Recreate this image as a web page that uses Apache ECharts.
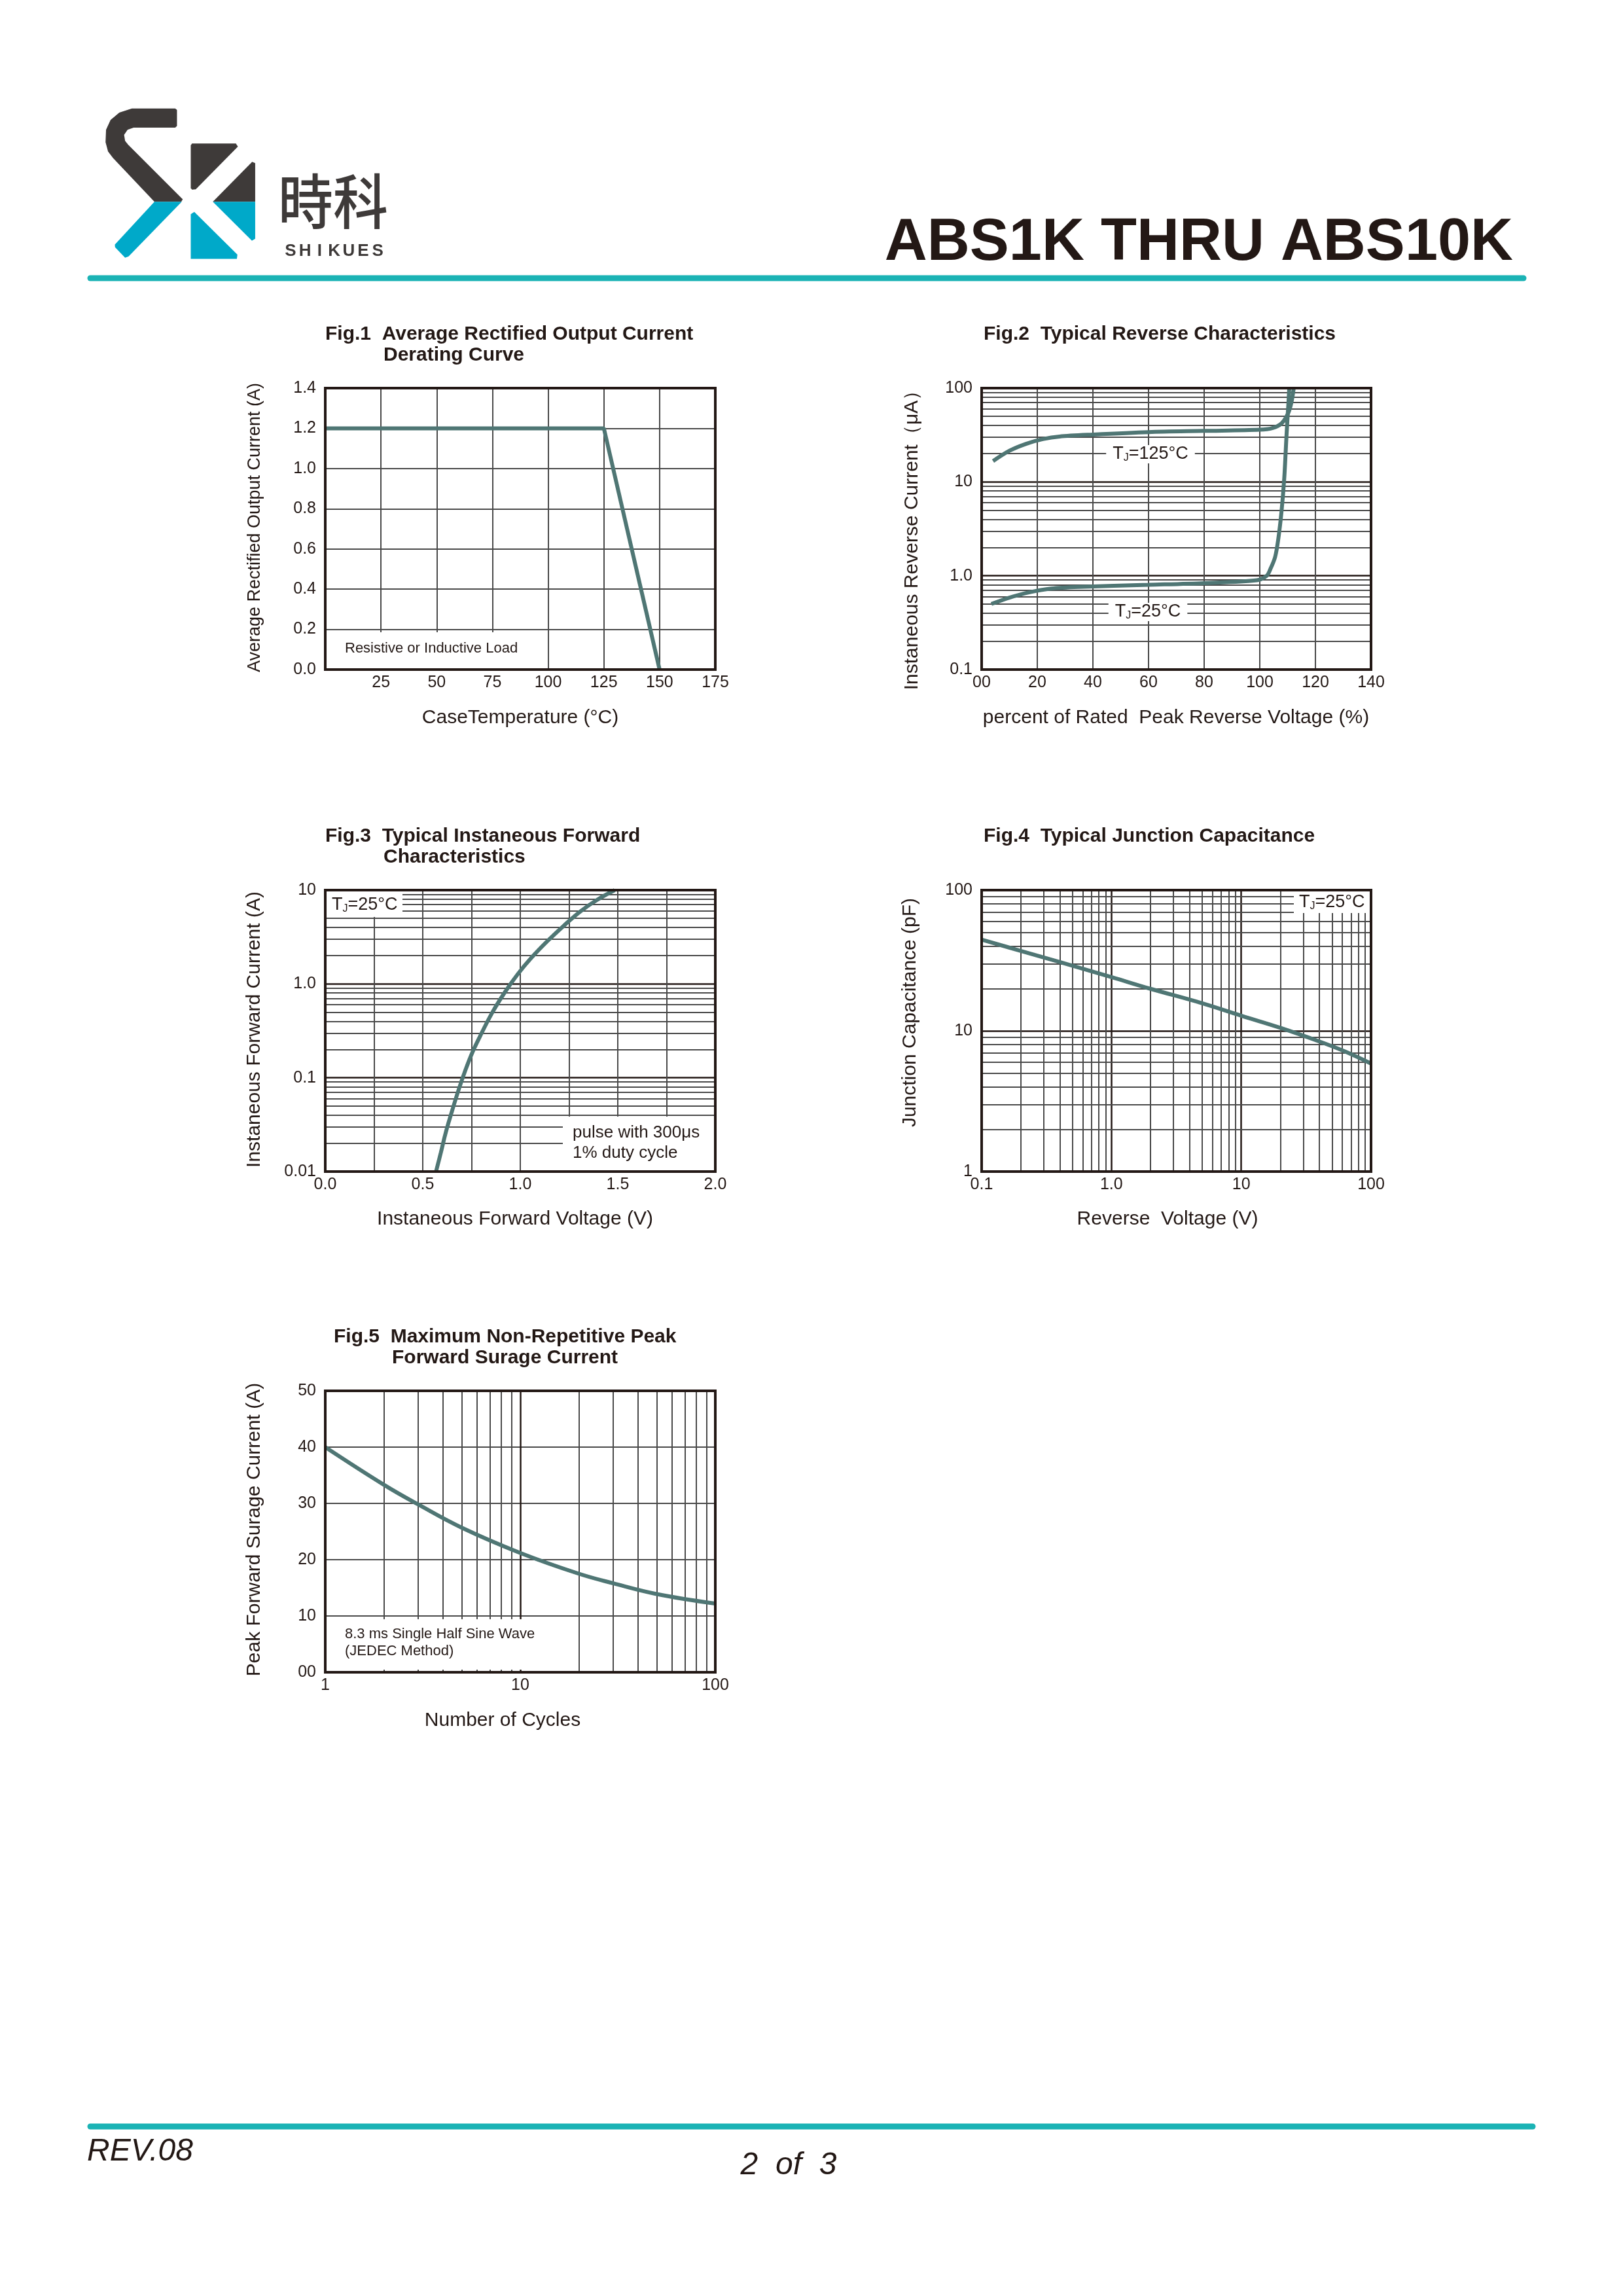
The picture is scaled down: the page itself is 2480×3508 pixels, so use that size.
<!DOCTYPE html>
<html>
<head>
<meta charset="utf-8">
<title>ABS1K THRU ABS10K</title>
<style>
  html, body { margin: 0; padding: 0; background: #fff; }
  #main { width: 2480px; height: 3508px; }
</style>
</head>
<body>
<div id="main"></div>
<script src="https://cdn.jsdelivr.net/npm/echarts@6/dist/echarts.min.js"></script>
<script>
// ---- data ----
// Fig.1 derating curve
var fig1Temp = [0, 125, 150];
var fig1Current = [1.2, 1.2, 0];

// Fig.2 reverse current (% of rated voltage, uA)
var fig2Volt125 = [4.1, 10, 16, 22, 28, 40, 60, 80, 100, 104.5, 107.8, 110.2, 111.4, 112.2];
var fig2Curr125 = [16.7, 21.5, 25.5, 28.6, 30.5, 32, 34, 35, 36, 37.5, 42, 54, 71, 100];
var fig2Volt25 = [3.5, 10, 17, 25, 35, 60, 80, 99, 102.5, 103.7, 105.5, 106.6, 107.8, 108.8, 109.6, 110.2, 110.6];
var fig2Curr25 = [0.5, 0.585, 0.665, 0.73, 0.76, 0.8, 0.835, 0.895, 1.0, 1.16, 1.58, 2.4, 4.8, 11, 31, 62, 100];

// Fig.3 forward characteristics (V, A)
var fig3Volt = [0.568, 0.593, 0.618, 0.652, 0.686, 0.719, 0.753, 0.787, 0.854, 0.921, 0.988, 1.055, 1.139, 1.224, 1.308, 1.392, 1.484];
var fig3Curr = [0.01, 0.016, 0.0261, 0.0456, 0.0768, 0.121, 0.183, 0.259, 0.485, 0.816, 1.28, 1.88, 2.86, 4.19, 5.93, 7.83, 10];

// Fig.4 junction capacitance (V, pF)
var fig4Volt = [0.1, 0.2, 0.4, 1, 2, 5, 10, 20, 40, 63, 100];
var fig4Cap = [44.5, 37.0, 30.8, 24.1, 19.9, 15.7, 12.8, 10.5, 8.4, 7.13, 5.85];

// Fig.5 surge current (cycles, A)
var fig5Cycles = [1, 2, 3, 5, 10, 20, 30, 50, 100];
var fig5Surge = [40, 33.3, 29.8, 25.7, 21.2, 17.5, 15.8, 13.9, 12.2];

// ---- tick labels ----
var fig2YTicks = [0.1, 1, 10, 100];
var fig2YLabels = ['0.1', '1.0', '10', '100'];
var fig2XLabels = ['00', '20', '40', '60', '80', '100', '120', '140'];
var fig3YTicks = [0.01, 0.1, 1, 10];
var fig3YLabels = ['0.01', '0.1', '1.0', '10'];
var fig4XTicks = [0.1, 1, 10, 100];
var fig4XLabels = ['0.1', '1.0', '10', '100'];
var fig4YTicks = [1, 10, 100];
var fig4YLabels = ['1', '10', '100'];
var fig5XTicks = [1, 10, 100];
var fig5XLabels = ['1', '10', '100'];
var fig5YLabels = ['00', '10', '20', '30', '40', '50'];

// minor log grid lines
var fig2MinorY = [0.2, 0.3, 0.4, 0.5, 0.6, 0.7, 0.8, 0.9, 2, 3, 4, 5, 6, 7, 8, 9, 20, 30, 40, 50, 60, 70, 80, 90];
var fig3MinorY = [0.02, 0.03, 0.04, 0.05, 0.06, 0.07, 0.08, 0.09, 0.2, 0.3, 0.4, 0.5, 0.6, 0.7, 0.8, 0.9, 2, 3, 4, 5, 6, 7, 8, 9];
var fig4MinorX = [0.2, 0.3, 0.4, 0.5, 0.6, 0.7, 0.8, 0.9, 2, 3, 4, 5, 6, 7, 8, 9, 20, 30, 40, 50, 60, 70, 80, 90];
var fig4MinorY = [2, 3, 4, 5, 6, 7, 8, 9, 20, 30, 40, 50, 60, 70, 80, 90];
var fig5MinorX = [2, 3, 4, 5, 6, 7, 8, 9, 20, 30, 40, 50, 60, 70, 80, 90];

// ---- style ----
var TXT = '#231815';
var GRIDC = '#4a4a4a';
var CURVE = '#4f7674';
var TEAL = '#1bb3b5';
var FONT = '"Liberation Sans", Arial, sans-serif';

var P = [
    {l: 497, t: 593, w: 596, h: 430},
    {l: 1500, t: 593, w: 595, h: 430},
    {l: 497, t: 1360, w: 596, h: 430},
    {l: 1500, t: 1360, w: 595, h: 430},
    {l: 497, t: 2125, w: 596, h: 430}
];

function pairs(xs, ys) {
    var res = [];
    for (var i = 0; i < xs.length; i++) res.push([xs[i], ys[i]]);
    return res;
}
function logLabel(ticks, labels) {
    return function (v) {
        for (var i = 0; i < ticks.length; i++) {
            if (Math.abs(Math.log10(v) - Math.log10(ticks[i])) < 1e-6) return labels[i];
        }
        return '';
    };
}
function minorLines(xs, ys) {
    var d = [];
    (xs || []).forEach(function (v) { d.push({xAxis: v}); });
    (ys || []).forEach(function (v) { d.push({yAxis: v}); });
    return {
        silent: true, symbol: 'none', z: 1, animation: false,
        label: {show: false},
        lineStyle: {color: GRIDC, width: 2, type: 'solid'},
        emphasis: {disabled: true},
        data: d
    };
}
function curve(xi, data, extra) {
    var s = {
        type: 'line', xAxisIndex: xi, yAxisIndex: xi, data: data,
        showSymbol: false, symbol: 'none', z: 10, silent: true,
        lineStyle: {color: CURVE, width: 6}
    };
    for (var k in extra) s[k] = extra[k];
    return s;
}

var axisLbl = {color: TXT, fontSize: 25, fontFamily: FONT, margin: 14};
function baseAxis(i, o) {
    var a = {
        gridIndex: i,
        axisLine: {show: false},
        axisTick: {show: false},
        axisLabel: Object.assign({}, axisLbl),
        splitLine: {show: true, lineStyle: {color: GRIDC, width: 2}}
    };
    for (var k in o) {
        if (k === 'axisLabel') Object.assign(a.axisLabel, o[k]);
        else a[k] = o[k];
    }
    return a;
}
var majorBlack = {show: true, lineStyle: {color: TXT, width: 2.5}};

// ---- graphic helpers ----
function txt(x, y, s, size, o) {
    o = o || {};
    return {
        type: 'text', x: x, y: y, z: o.z || 6, rotation: o.rot || 0,
        scaleY: o.scaleY || 1,
        style: {
            text: s, fill: o.fill || TXT, fontSize: size,
            fontFamily: o.family || FONT, fontWeight: o.weight || 'normal',
            fontStyle: o.style || 'normal',
            align: o.align || 'left', verticalAlign: 'middle'
        }
    };
}
function tj(x, y, rest, align, bg) {
    var st = {
        text: '{t|T}{s|J}{t|' + rest + '}',
        align: align, verticalAlign: 'middle',
        rich: {
            t: {fontSize: 27, fontFamily: FONT, fill: TXT, lineHeight: 28},
            s: {fontSize: 16, fontFamily: FONT, fill: TXT, lineHeight: 16, verticalAlign: 'bottom'}
        }
    };
    if (bg) { st.backgroundColor = '#fff'; st.padding = [0, 10]; }
    return {type: 'text', x: x, y: y, z: 6, style: st};
}
function box(x, y, w, h) {
    return {type: 'rect', z: 5, shape: {x: x, y: y, width: w, height: h}, style: {fill: '#fff'}};
}
function frame(p) {
    return {type: 'rect', z: 20, shape: {x: p.l, y: p.t, width: p.w, height: p.h},
        style: {fill: 'none', stroke: TXT, lineWidth: 4}};
}
function logoPoly(pts, color) {
    return {
        type: 'polygon', z: 1,
        shape: {points: pts.map(function (p) { return [100 + p[0] * 0.383, 130 + p[1] * 0.333]; })},
        style: {fill: color}
    };
}

var DARK = '#3e3a39', BLUE = '#00a9c9';
var NARROW = '"Liberation Sans Narrow", "Liberation Sans", sans-serif';
var graphics = [
    // logo
    logoPoly([[265,107],[438,107],[445,114],[445,188],[438,195],[272,195],[248,205],[234,228],[238,256],[250,273],[468,524],[462,535],[355,535],[190,335],[170,305],[160,262],[162,205],[180,160],[215,126]], DARK),
    logoPoly([[355,535],[464,535],[252,786],[238,792],[198,744],[197,732]], BLUE),
    logoPoly([[500,276],[505,268],[680,268],[688,282],[520,478],[505,480],[500,472]], DARK),
    logoPoly([[745,352],[757,358],[757,535],[588,535]], DARK),
    logoPoly([[588,535],[757,535],[757,705],[744,714]], BLUE),
    logoPoly([[500,592],[514,582],[686,778],[684,797],[500,797]], BLUE),
    txt(509, 308, '時科', 84, {align: 'center', family: '"Noto Sans CJK SC", sans-serif', weight: 500, fill: DARK, scaleY: 1.08}),
    // header / footer
    txt(2312, 372, 'ABS1K THRU ABS10K', 90, {align: 'right', weight: 'bold'}),
    {type: 'line', z: 2, shape: {x1: 138, y1: 425, x2: 2328, y2: 425}, style: {stroke: TEAL, lineWidth: 9, lineCap: 'round'}},
    {type: 'line', z: 2, shape: {x1: 138, y1: 3249, x2: 2342, y2: 3249}, style: {stroke: TEAL, lineWidth: 9, lineCap: 'round'}},
    txt(133, 3288, 'REV.08', 48, {family: NARROW, style: 'italic'}),
    txt(1205, 3309, '2  of  3', 48, {align: 'center', family: NARROW, style: 'italic'}),

    // figure titles
    txt(497, 511, 'Fig.1  Average Rectified Output Current', 30, {weight: 'bold'}),
    txt(586, 543, 'Derating Curve', 30, {weight: 'bold'}),
    txt(1503, 511, 'Fig.2  Typical Reverse Characteristics', 30, {weight: 'bold'}),
    txt(497, 1278, 'Fig.3  Typical Instaneous Forward', 30, {weight: 'bold'}),
    txt(586, 1310, 'Characteristics', 30, {weight: 'bold'}),
    txt(1503, 1278, 'Fig.4  Typical Junction Capacitance', 30, {weight: 'bold'}),
    txt(510, 2043, 'Fig.5  Maximum Non-Repetitive Peak', 30, {weight: 'bold'}),
    txt(599, 2075, 'Forward Surage Current', 30, {weight: 'bold'}),

    // axis names
    txt(795, 1097, 'CaseTemperature (°C)', 30, {align: 'center'}),
    txt(390, 806, 'Average Rectified Output Current (A)', 27, {align: 'center', rot: Math.PI / 2}),
    txt(1797, 1097, 'percent of Rated  Peak Reverse Voltage (%)', 30, {align: 'center'}),
    txt(1394, 818, 'Instaneous Reverse Current（μA）', 30, {align: 'center', rot: Math.PI / 2}),
    txt(787, 1863, 'Instaneous Forward Voltage (V)', 30, {align: 'center'}),
    txt(389, 1573, 'Instaneous Forward Current (A)', 30, {align: 'center', rot: Math.PI / 2}),
    txt(1784, 1863, 'Reverse  Voltage (V)', 30, {align: 'center'}),
    txt(1391, 1547, 'Junction Capacitance (pF)', 30, {align: 'center', rot: Math.PI / 2}),
    txt(768, 2629, 'Number of Cycles', 30, {align: 'center'}),
    txt(389, 2337, 'Peak Forward Surage Current (A)', 30, {align: 'center', rot: Math.PI / 2}),

    // annotation boxes and notes
    box(499, 966, 316, 55),
    txt(527, 991, 'Resistive or Inductive Load', 22),
    tj(1758, 694, '=125°C', 'center', true),
    tj(1754, 935, '=25°C', 'center', true),
    box(499, 1362, 116, 39),
    tj(507, 1383, '=25°C', 'left', false),
    box(860, 1706, 231, 82),
    txt(875, 1731, 'pulse with 300μs', 26),
    txt(875, 1762, '1% duty cycle', 26),
    box(1977, 1362, 116, 33),
    tj(1985, 1379, '=25°C', 'left', false),
    box(499, 2474, 381, 77),
    txt(527, 2497, '8.3 ms Single Half Sine Wave', 22),
    txt(527, 2523, '(JEDEC Method)', 22)
];
// SHIKUES with wide tracking
'SHIKUES'.split('').forEach(function (c, i) {
    graphics.push(txt(444 + i * 22.2, 384, c, 26, {align: 'center', weight: 'bold', fill: DARK}));
});
P.forEach(function (p) { graphics.push(frame(p)); });

var myChart = echarts.init(document.getElementById('main'));
var option = {
    backgroundColor: '#fff',
    animation: false,
    grid: P.map(function (p) {
        return {left: p.l, top: p.t, width: p.w, height: p.h, containLabel: false};
    }),
    xAxis: [
        baseAxis(0, {type: 'value', min: 0, max: 175, interval: 25,
            axisLabel: {margin: 8, formatter: function (v) { return v === 0 ? '' : String(v); }}}),
        baseAxis(1, {type: 'value', min: 0, max: 140, interval: 20,
            axisLabel: {margin: 8, formatter: function (v) { return fig2XLabels[Math.round(v / 20)]; }}}),
        baseAxis(2, {type: 'value', min: 0, max: 2, interval: 0.25,
            axisLabel: {margin: 8, formatter: function (v) {
                return Math.abs(v * 2 - Math.round(v * 2)) < 1e-6 ? v.toFixed(1) : '';
            }}}),
        baseAxis(3, {type: 'log', logBase: 10, min: 0.1, max: 100, splitLine: majorBlack,
            axisLabel: {margin: 8, formatter: logLabel(fig4XTicks, fig4XLabels)}}),
        baseAxis(4, {type: 'log', logBase: 10, min: 1, max: 100, splitLine: majorBlack,
            axisLabel: {margin: 8, formatter: logLabel(fig5XTicks, fig5XLabels)}})
    ],
    yAxis: [
        baseAxis(0, {type: 'value', min: 0, max: 1.4, interval: 0.2,
            axisLabel: {formatter: function (v) { return v.toFixed(1); }}}),
        baseAxis(1, {type: 'log', logBase: 10, min: 0.1, max: 100, splitLine: majorBlack,
            axisLabel: {formatter: logLabel(fig2YTicks, fig2YLabels)}}),
        baseAxis(2, {type: 'log', logBase: 10, min: 0.01, max: 10, splitLine: majorBlack,
            axisLabel: {formatter: logLabel(fig3YTicks, fig3YLabels)}}),
        baseAxis(3, {type: 'log', logBase: 10, min: 1, max: 100, splitLine: majorBlack,
            axisLabel: {formatter: logLabel(fig4YTicks, fig4YLabels)}}),
        baseAxis(4, {type: 'value', min: 0, max: 50, interval: 10,
            axisLabel: {formatter: function (v) { return fig5YLabels[Math.round(v / 10)]; }}})
    ],
    series: [
        curve(0, pairs(fig1Temp, fig1Current), {}),
        curve(1, pairs(fig2Volt125, fig2Curr125), {smooth: 0.3, markLine: minorLines(null, fig2MinorY)}),
        curve(1, pairs(fig2Volt25, fig2Curr25), {smooth: 0.3}),
        curve(2, pairs(fig3Volt, fig3Curr), {smooth: 0.4, markLine: minorLines(null, fig3MinorY)}),
        curve(3, pairs(fig4Volt, fig4Cap), {smooth: 0.4, markLine: minorLines(fig4MinorX, fig4MinorY)}),
        curve(4, pairs(fig5Cycles, fig5Surge), {smooth: 0.4, markLine: minorLines(fig5MinorX, null)})
    ],
    graphic: {elements: graphics}
};
myChart.setOption(option);
</script>
</body>
</html>
